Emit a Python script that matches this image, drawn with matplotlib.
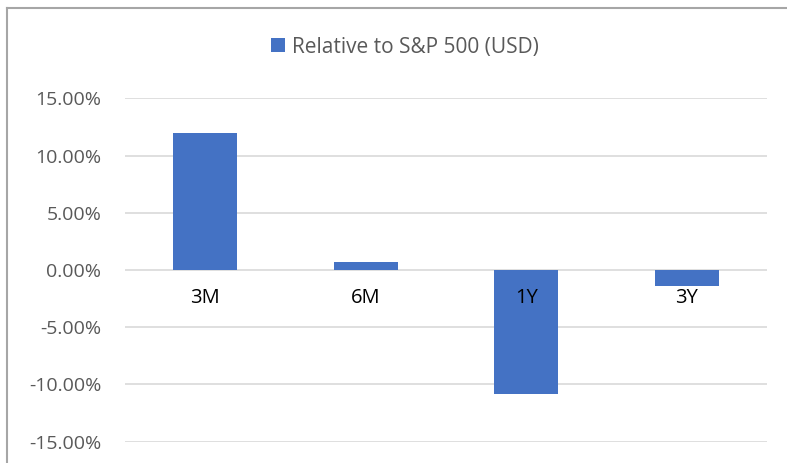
import matplotlib
matplotlib.use("Agg")
import matplotlib.pyplot as plt
from matplotlib.lines import Line2D
from matplotlib.ticker import FuncFormatter

categories = ["3M", "6M", "1Y", "3Y"]
values = [0.1195, 0.0073, -0.1085, -0.0140]
series_name = "Relative to S&P 500 (USD)"
yticks = [-0.15, -0.10, -0.05, 0.0, 0.05, 0.10, 0.15]

plt.rcParams['font.family'] = ['Open Sans', 'DejaVu Sans']

fig = plt.figure(figsize=(7.87, 4.63), dpi=100)
ax = fig.add_axes([125/787, 1-441.7/463, 642/787, (441.7-98.3)/463])

x = list(range(len(categories)))
bars = ax.bar(x, values, width=0.4, color="#4472C4", label=series_name, zorder=2)

ax.set_xlim(-0.5, len(categories)-0.5)
ax.set_ylim(-0.15, 0.15)
ax.set_yticks(yticks)
ax.yaxis.set_major_formatter(FuncFormatter(lambda v, p: f"{v*100:.2f}%"))
ax.tick_params(axis='y', length=0, pad=17, labelsize=14, labelcolor="#595959")
ax.set_xticks([])
ax.grid(axis='y', color="#d9d9d9", linewidth=1.2, zorder=0)
ax.set_axisbelow(True)
for s in ax.spines.values():
    s.set_visible(False)

for xi, cat in zip(x, categories):
    ax.annotate(cat, xy=(xi, 0), xytext=(0, -20), textcoords='offset points',
                ha='center', va='center', fontsize=14.5, color="#000000", zorder=5)

leg = fig.legend(loc='center', bbox_to_anchor=(405/787, 1-47/463), frameon=False,
                 fontsize=15, handlelength=0.65, handleheight=0.65, handletextpad=0.35)
for t in leg.get_texts():
    t.set_color("#595959")

# chart-area border (top and left visible)
fig.add_artist(Line2D([6.5/787, 1.0], [1-7.5/463, 1-7.5/463], transform=fig.transFigure,
                      color="#a6a6a6", linewidth=1.5))
fig.add_artist(Line2D([6.5/787, 6.5/787], [0, 1-7.5/463], transform=fig.transFigure,
                      color="#a6a6a6", linewidth=1.5))

fig.savefig("out.png", dpi=100)
